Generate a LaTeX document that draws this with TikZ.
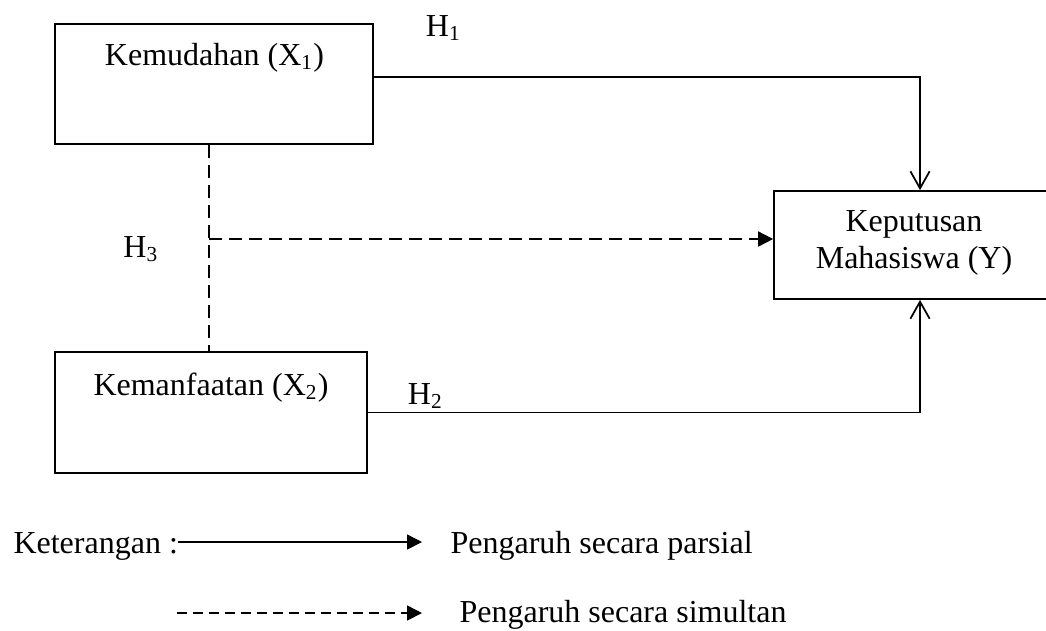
\documentclass[tikz,border=0pt]{standalone}
\usepackage{fontspec}
\setmainfont{Liberation Serif}
\usetikzlibrary{arrows.meta,calc,fit,positioning}

\begin{document}
\begin{tikzpicture}[x=0.375pt,y=-0.375pt,
    kotak/.style={draw,line width=0.65pt,inner sep=0pt},
    teks/.style={inner sep=0pt,font=\fontsize{12}{14}\selectfont},
    parsial/.style={line width=0.65pt,-{Straight Barb[length=6.4pt,width=7.2pt]}},
    simultan/.style={line width=0.65pt,dash pattern=on 4.9pt off 2.6pt},
    segitiga/.style={-{Triangle[length=5.6pt,width=5.6pt]}}]
    \useasboundingbox (0,0) rectangle (1046,630);

    \node[kotak,fit={(55,24) (373,144)}] (x1) {};
    \node[kotak,fit={(55,352) (367,473)}] (x2) {};
    \node[kotak,fit={(774,191) (1066,299)}] (y) {};
    \node[teks,anchor=base] (x1t) at (214.5,65) {Kemudahan (X\textsubscript{1})};
    \node[teks,anchor=base] (x2t) at (211,395) {Kemanfaatan (X\textsubscript{2})};
    \node[teks,align=center] (yt) at (914,243) {Keputusan\\Mahasiswa (Y)};

    \node[teks,anchor=base] (h1) at (443.5,36) {H\textsubscript{1}};
    \node[teks,anchor=base] (h2) at (425.5,404) {H\textsubscript{2}};
    \node[teks,anchor=base] (h3) at (141,257) {H\textsubscript{3}};

    \draw[parsial] ($(x1.east)+(0,-7)$) -| (y.north);
    \draw[parsial] (x2.east) -| (y.south);
    \coordinate (cabang) at (209,239);
    \draw[simultan] (x1.south -| cabang) -- (x2.north -| cabang);
    \draw[simultan,segitiga] (cabang) -- (cabang -| y.west);

    \node[teks,anchor=base west] (ket) at (13,553) {Keterangan :};
    \coordinate (ujung1) at (422,542);
    \draw[line width=0.6pt,segitiga] (ket.east |- ujung1) -- (ujung1);
    \node[teks,anchor=base west] (ketpar) at (450,553) {Pengaruh secara parsial};
    \coordinate (awal2) at (177,613);
    \coordinate (ujung2) at (422,613);
    \draw[line width=0.6pt,dash pattern=on 3.75pt off 2.25pt,segitiga] (awal2) -- (ujung2);
    \node[teks,anchor=base west] (ketsim) at (459,622) {Pengaruh secara simultan};
\end{tikzpicture}
\end{document}
